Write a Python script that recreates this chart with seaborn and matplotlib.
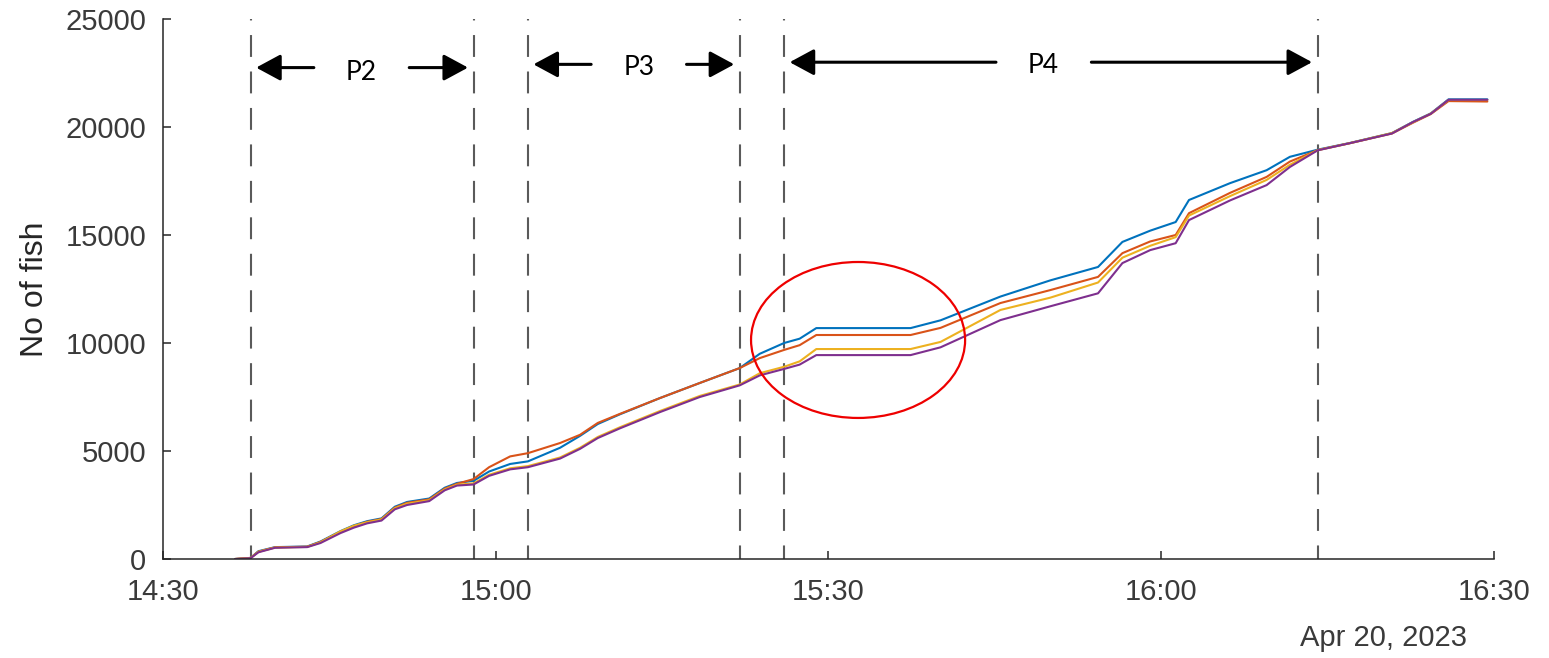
import matplotlib
matplotlib.use("Agg")
import matplotlib.pyplot as plt
import matplotlib.dates as mdates
from matplotlib.patches import Ellipse
import pandas as pd
import seaborn as sns

# ---- data -------------------------------------------------------------
day = "2023-04-20"

times = [
    "14:36:30", "14:37:54", "14:38:36", "14:40:06", "14:43:00", "14:44:12",
    "14:46:00", "14:47:12", "14:48:24", "14:49:42", "14:50:54", "14:52:00",
    "14:54:00", "14:55:24", "14:56:30", "14:58:00", "14:59:24", "15:01:18",
    "15:02:54", "15:05:48", "15:07:36", "15:09:12", "15:11:12", "15:14:48",
    "15:18:24", "15:22:00", "15:23:48", "15:26:00", "15:27:24", "15:28:54",
    "15:37:24", "15:40:06", "15:45:30", "15:50:00", "15:54:18", "15:56:30",
    "15:59:00", "16:01:18", "16:02:30", "16:06:12", "16:09:30", "16:11:36",
    "16:14:06", "16:17:00", "16:20:48", "16:22:42", "16:24:18", "16:25:54",
    "16:29:24",
]

count_1 = [0, 50, 360, 550, 580, 810, 1290, 1560, 1750, 1880, 2420, 2640,
           2800, 3300, 3520, 3620, 4050, 4400, 4520, 5150, 5700, 6250, 6700,
           7450, 8150, 8840, 9500, 10000, 10200, 10690, 10690, 11050, 12150,
           12900, 13520, 14680, 15200, 15600, 16620, 17400, 18000, 18620,
           18950, 19260, 19720, 20240, 20630, 21280, 21280]
count_2 = [0, 50, 340, 540, 570, 790, 1260, 1520, 1720, 1850, 2380, 2600,
           2760, 3260, 3480, 3700, 4250, 4750, 4900, 5370, 5750, 6300, 6720,
           7450, 8150, 8840, 9300, 9680, 9900, 10370, 10370, 10700, 11850,
           12450, 13060, 14160, 14700, 15000, 16010, 16950, 17690, 18400,
           18930, 19250, 19700, 20200, 20600, 21200, 21180]
count_3 = [0, 50, 330, 530, 560, 770, 1280, 1540, 1700, 1830, 2350, 2560,
           2720, 3220, 3440, 3500, 3900, 4200, 4300, 4700, 5150, 5650, 6100,
           6850, 7550, 8080, 8600, 8900, 9150, 9720, 9720, 10050, 11530,
           12100, 12800, 13950, 14500, 14900, 15900, 16800, 17550, 18250,
           18930, 19250, 19720, 20220, 20620, 21250, 21250]
count_4 = [0, 40, 310, 520, 550, 740, 1200, 1450, 1650, 1780, 2300, 2500,
           2680, 3180, 3400, 3450, 3850, 4150, 4250, 4650, 5100, 5600, 6050,
           6800, 7500, 8040, 8500, 8800, 9000, 9440, 9440, 9800, 11060,
           11700, 12300, 13700, 14300, 14620, 15690, 16600, 17310, 18150,
           18920, 19250, 19700, 20230, 20610, 21260, 21260]

series_names = ["count_1", "count_2", "count_3", "count_4"]
series_values = [count_1, count_2, count_3, count_4]
series_colors = ["#0072BD", "#D95319", "#EDB120", "#7E2F8E"]

# period boundaries (dashed lines) and their labels
boundaries = ["14:37:54", "14:58:00", "15:02:54", "15:22:00", "15:26:00", "16:14:06"]
periods = [("P2", "14:37:54", "14:58:00", "14:47:54", 22500),
           ("P3", "15:02:54", "15:22:00", "15:12:54", 22750),
           ("P4", "15:26:00", "16:14:06", "15:49:24", 22850)]

x_ticks = ["14:30", "15:00", "15:30", "16:00", "16:30"]
y_ticks = [0, 5000, 10000, 15000, 20000, 25000]

# highlighted region: centre time, centre count, span in minutes, span in count
highlight = ("15:32:40", 10140, 19.3, 7220)


def ts(hms):
    return pd.Timestamp(f"{day} {hms}")


# ---- figure -----------------------------------------------------------
sns.set_style("ticks")
plt.rcParams["font.family"] = ["Liberation Sans", "DejaVu Sans"]

W, H = 1549, 658
fig = plt.figure(figsize=(W / 100, H / 100), dpi=100)
ax = fig.add_axes([163 / W, 1 - 559 / H, (1494 - 163) / W, (559 - 19) / H])

frames = []
for name, vals in zip(series_names, series_values):
    frames.append(pd.DataFrame({"time": [ts(t) for t in times],
                                "count": vals, "series": name}))
df = pd.concat(frames, ignore_index=True)

sns.lineplot(data=df, x="time", y="count", hue="series",
             hue_order=series_names, palette=series_colors,
             estimator=None, sort=False, linewidth=1.5, legend=False, ax=ax)

# dashed period boundaries
for b in boundaries:
    ax.axvline(ts(b), color="#5a5a5a", lw=1.5,
               linestyle=(4, (10.5, 7.0)), zorder=1)

# period arrows and labels
half_gap = pd.Timedelta(seconds=30)
tail = pd.Timedelta(minutes=4.3)
arrow_props = dict(arrowstyle="-|>,head_length=0.5,head_width=0.27",
                   mutation_scale=30, lw=2.2, color="black",
                   shrinkA=0, shrinkB=0)
for label, start, end, mid, yv in periods:
    s, e, m = ts(start), ts(end), ts(mid)
    ay = yv + 250 if label == "P2" else yv + 150
    ax.annotate("", xy=(s + half_gap, ay), xytext=(m - tail, ay),
                arrowprops=arrow_props)
    ax.annotate("", xy=(e - half_gap, ay), xytext=(m + tail, ay),
                arrowprops=arrow_props)
    ax.text(m, yv, label, ha="center", va="center", fontsize=19,
            family=["Lato", "DejaVu Sans"], color="black")

# highlight ellipse
hc, hy, hw_min, hh = highlight
ell = Ellipse((mdates.date2num(ts(hc)), hy), width=hw_min / 1440, height=hh,
              fill=False, edgecolor="#ee0000", lw=1.6, zorder=5)
ax.add_patch(ell)

# axes styling
ax.set_xlim(ts("14:30:00"), ts("16:30:00"))
ax.set_ylim(0, 25000)
ax.set_xticks([ts(t + ":00") for t in x_ticks])
ax.xaxis.set_major_formatter(mdates.DateFormatter("%H:%M"))
ax.set_yticks(y_ticks)
ax.set_yticklabels([str(v) for v in y_ticks])
sns.despine(ax=ax)
for sp in ("left", "bottom"):
    ax.spines[sp].set_color("#262626")
    ax.spines[sp].set_linewidth(1.1)

ax.tick_params(axis="both", direction="in", length=6, width=1.1,
               color="#262626", labelcolor="#3a3a3a", labelsize=21)
ax.tick_params(axis="x", pad=13.5)
ax.tick_params(axis="y", pad=12)

ax.set_xlabel("")
ax.set_ylabel("No of fish", fontsize=23, color="#262626")
ax.yaxis.set_label_coords(-0.085, 0.5)

fig.text(1467 / W, 1 - 638 / H, "Apr 20, 2023", ha="right", va="center",
         fontsize=21, color="#3a3a3a")

fig.savefig("out.png", dpi=100, facecolor="white")
